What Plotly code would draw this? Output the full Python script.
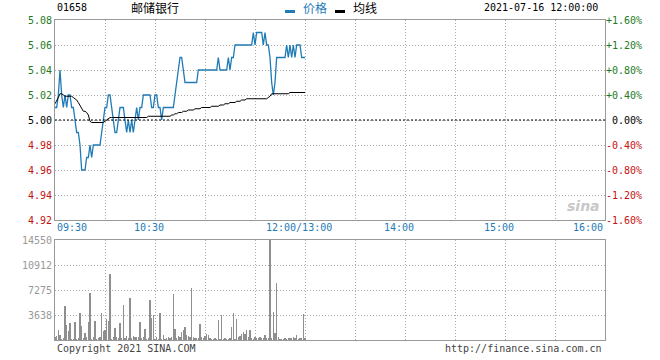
import plotly.graph_objects as go

# ---------------- data ----------------
PRICE = [
    5.01, 5.01, 5.02, 5.04, 5.02, 5.01, 5.02, 5.01, 5.02, 5.02,
    5.01, 5.01, 5.00, 4.99, 4.99, 4.98, 4.96, 4.96, 4.96, 4.97,
    4.97, 4.98, 4.97, 4.98, 4.98, 4.98, 4.98, 4.98, 4.99, 5.00,
    5.01, 5.01, 5.02, 5.02, 5.01, 5.00, 4.99, 4.99, 5.00, 5.01,
    5.01, 5.01, 5.00, 4.99, 5.00, 4.99, 5.00, 4.99, 5.00, 5.01,
    5.00, 5.01, 5.01, 5.02, 5.02, 5.02, 5.02, 5.02, 5.01, 5.01,
    5.02, 5.02, 5.01, 5.01, 5.00, 5.01, 5.01, 5.01, 5.01, 5.01,
    5.01, 5.01, 5.02, 5.03, 5.04, 5.05, 5.05, 5.04, 5.03, 5.03,
    5.03, 5.03, 5.03, 5.03, 5.03, 5.03, 5.04, 5.04, 5.04, 5.04,
    5.04, 5.04, 5.04, 5.04, 5.04, 5.04, 5.04, 5.04, 5.05, 5.04,
    5.04, 5.04, 5.04, 5.04, 5.05, 5.04, 5.05, 5.05, 5.06, 5.06,
    5.06, 5.06, 5.06, 5.06, 5.06, 5.06, 5.06, 5.06, 5.06, 5.07,
    5.06, 5.07, 5.07, 5.07, 5.07, 5.06, 5.07, 5.06, 5.06, 5.05,
    5.03, 5.02, 5.03, 5.05, 5.05, 5.05, 5.05, 5.05, 5.05, 5.06,
    5.05, 5.06, 5.05, 5.06, 5.05, 5.06, 5.06, 5.06, 5.05, 5.05,
    5.05,
]

AVG = [
    5.013, 5.015, 5.018, 5.021, 5.021, 5.020, 5.019, 5.019, 5.019, 5.019,
    5.019, 5.018, 5.017, 5.016, 5.014, 5.012, 5.009, 5.007, 5.007, 5.006,
    5.004, 4.999, 4.998, 4.998, 4.998, 4.998, 4.998, 4.998, 4.998, 4.998,
    4.999, 5.000, 5.001, 5.002, 5.002, 5.002, 5.002, 5.002, 5.002, 5.002,
    5.002, 5.002, 5.002, 5.002, 5.002, 5.002, 5.002, 5.002, 5.002, 5.002,
    5.002, 5.002, 5.002, 5.002, 5.002, 5.002, 5.003, 5.003, 5.003, 5.003,
    5.003, 5.003, 5.003, 5.003, 5.003, 5.003, 5.003, 5.003, 5.003, 5.003,
    5.004, 5.004, 5.005, 5.005, 5.006, 5.006, 5.006, 5.007, 5.007, 5.007,
    5.008, 5.008, 5.008, 5.008, 5.009, 5.009, 5.009, 5.009, 5.010, 5.010,
    5.010, 5.010, 5.010, 5.010, 5.011, 5.011, 5.011, 5.011, 5.011, 5.012,
    5.012, 5.012, 5.013, 5.013, 5.013, 5.014, 5.014, 5.014, 5.014, 5.015,
    5.015, 5.015, 5.016, 5.016, 5.016, 5.017, 5.017, 5.017, 5.017, 5.017,
    5.017, 5.017, 5.017, 5.017, 5.017, 5.017, 5.017, 5.017, 5.018, 5.019,
    5.021, 5.021, 5.021, 5.021, 5.021, 5.021, 5.021, 5.021, 5.021, 5.021,
    5.021, 5.022, 5.022, 5.022, 5.022, 5.022, 5.022, 5.022, 5.022, 5.022,
    5.022,
]

VOLUME = [
    388, 582, 1455, 727, 194, 340, 4947, 2182, 1310, 2522,
    97, 194, 2619, 100, 243, 3928, 2037, 340, 970, 485,
    2619, 6838, 194, 485, 2765, 194, 340, 388, 3880, 1358,
    1455, 3007, 2813, 9603, 194, 388, 1698, 485, 243, 2425,
    300, 5093, 243, 582, 243, 6063, 243, 582, 485, 388,
    485, 2619, 243, 388, 1600, 194, 340, 5820, 3250, 3638,
    145, 485, 145, 3977, 194, 727, 194, 243, 388, 243,
    388, 6693, 1649, 243, 582, 388, 1115, 1455, 1843, 727,
    582, 485, 7518, 485, 340, 243, 243, 2328, 485, 340,
    631, 825, 727, 243, 194, 145, 243, 145, 2910, 145,
    3638, 145, 243, 145, 194, 243, 1940, 3880, 194, 3007,
    485, 582, 825, 1164, 825, 1407, 485, 1455, 243, 145,
    388, 243, 340, 388, 291, 340, 679, 291, 243, 14550,
    243, 4123, 1067, 8342, 388, 194, 97, 145, 243, 194,
    243, 340, 243, 388, 243, 727, 194, 291, 291, 3783,
    291,
]

MINUTES = list(range(len(PRICE)))          # trading minutes from 09:30
TIME_LABELS = ["09:30", "10:30", "12:00/13:00", "14:00", "15:00", "16:00"]
TIME_POS = [0, 60, 150, 210, 270, 330]
PRICE_TICKS = [4.92, 4.94, 4.96, 4.98, 5.00, 5.02, 5.04, 5.06, 5.08]
PCT_TICKS = [-1.6, -1.2, -0.8, -0.4, 0.0, 0.4, 0.8, 1.2, 1.6]
VOL_TICKS = [3638, 7275, 10912, 14550]
PREV_CLOSE = 5.00

GREEN = "#1f7a1f"
RED = "#c41212"
BLUE = "#1f7bb6"
GRID = "#aaaaaa"
MONO = "DejaVu Sans Mono"


def col_for(v, ref):
    if v > ref + 1e-9:
        return GREEN
    if v < ref - 1e-9:
        return RED
    return "#000000"


price_ticktext = [f'<span style="color:{col_for(v, PREV_CLOSE)}">{v:.2f}</span>' for v in PRICE_TICKS]
pct_ticktext = []
for v in PCT_TICKS:
    if v > 0:
        s = f"+{v:.2f}%"
    elif v < 0:
        s = f"{v:.2f}%"
    else:
        s = f"\u00a0{v:.2f}%"
    pct_ticktext.append(f'<span style="color:{col_for(v, 0)}">{s}</span>')

# percent change relative to previous close (for the right-hand axis)
PCT_CHANGE = [(p / PREV_CLOSE - 1) * 100 for p in PRICE]

fig = go.Figure()
fig.add_trace(go.Scatter(x=MINUTES, y=PRICE, mode="lines", name="价格",
                         line=dict(color=BLUE, width=1.3), xaxis="x", yaxis="y"))
fig.add_trace(go.Scatter(x=MINUTES, y=AVG, mode="lines", name="均线",
                         line=dict(color="#000000", width=1), xaxis="x", yaxis="y"))
fig.add_trace(go.Scatter(x=MINUTES, y=PCT_CHANGE, mode="lines", name="涨跌幅",
                         line=dict(color="rgba(0,0,0,0)", width=0), hoverinfo="skip",
                         xaxis="x", yaxis="y3"))
fig.add_trace(go.Bar(x=MINUTES, y=VOLUME, width=0.7, marker=dict(color="#8f8f8f", line=dict(width=0)),
                     xaxis="x2", yaxis="y2", name="成交量"))

grid_x = list(range(30, 330, 30))
axis_common = dict(showline=True, mirror=True, linecolor="#999999", linewidth=1,
                   zeroline=False, ticks="", fixedrange=True)

fig.update_layout(
    width=660, height=360, autosize=False,
    margin=dict(l=55, r=55, t=20, b=20),
    paper_bgcolor="white", plot_bgcolor="white",
    showlegend=False,
    bargap=0,
    xaxis=dict(domain=[0, 1], anchor="y", range=[0, 330], tickvals=grid_x,
               showticklabels=False, showgrid=True, gridcolor=GRID, griddash="1px,2px",
               gridwidth=1, **axis_common),
    yaxis=dict(domain=[0.375, 1], anchor="x", range=[4.92, 5.08], tickvals=PRICE_TICKS,
               ticktext=price_ticktext, showgrid=True, gridcolor=GRID, griddash="1px,2px",
               tickfont=dict(family=MONO, size=10), **axis_common),
    yaxis3=dict(overlaying="y", side="right", anchor="x", range=[-1.6, 1.6],
                tickvals=PCT_TICKS, ticktext=pct_ticktext, showgrid=False,
                tickfont=dict(family=MONO, size=10), zeroline=False, ticks="",
                showline=False, fixedrange=True),
    xaxis2=dict(domain=[0, 1], anchor="y2", range=[0, 330], tickvals=grid_x,
                showticklabels=False, showgrid=True, gridcolor=GRID, griddash="1px,2px",
                **axis_common),
    yaxis2=dict(domain=[0, 0.3125], anchor="x2", range=[0, 14550], tickvals=VOL_TICKS,
                ticktext=[str(v) for v in VOL_TICKS], showgrid=True, gridcolor=GRID,
                griddash="1px,2px", tickfont=dict(family=MONO, size=10, color="#999999"),
                **axis_common),
)

# previous-close reference line
fig.add_shape(type="line", xref="x", yref="y", x0=0, x1=330, y0=PREV_CLOSE, y1=PREV_CLOSE,
              line=dict(color="#000000", width=1, dash="2px,2px"))

# time labels under the price panel
for lab, pos in zip(TIME_LABELS, TIME_POS):
    if pos == TIME_POS[0]:
        anchor, shift = "left", 0
    elif pos == TIME_POS[-1]:
        anchor, shift = "right", 0
    else:
        anchor, shift = "center", -6
    fig.add_annotation(x=pos, xref="x", y=0.353, yref="paper", text=lab, showarrow=False,
                       xanchor=anchor, yanchor="middle", xshift=shift,
                       font=dict(family=MONO, size=10, color=BLUE))

# header
fig.add_annotation(x=0, xref="paper", y=1.0375, yref="paper", text="01658", showarrow=False,
                   xanchor="left", yanchor="middle", font=dict(family=MONO, size=10, color="#000"))
fig.add_annotation(x=0.1345, xref="paper", y=1.0375, yref="paper", text="邮储银行", showarrow=False,
                   xanchor="left", yanchor="middle",
                   font=dict(family="Noto Sans CJK SC", size=12, color="#000"))
fig.add_annotation(x=0.447, xref="paper", y=1.0375, yref="paper", text="价格", showarrow=False,
                   xanchor="left", yanchor="middle",
                   font=dict(family="Noto Sans CJK SC", size=12, color=BLUE))
fig.add_annotation(x=0.538, xref="paper", y=1.0375, yref="paper", text="均线", showarrow=False,
                   xanchor="left", yanchor="middle",
                   font=dict(family="Noto Sans CJK SC", size=12, color="#000"))
fig.add_shape(type="rect", xref="paper", yref="paper", x0=(285 - 55) / 550, x1=(295 - 55) / 550,
              y0=(340 - 13) / 320, y1=(340 - 10) / 320, fillcolor=BLUE, line=dict(width=0))
fig.add_shape(type="rect", xref="paper", yref="paper", x0=(335 - 55) / 550, x1=(345 - 55) / 550,
              y0=(340 - 13) / 320, y1=(340 - 10) / 320, fillcolor="#000", line=dict(width=0))
fig.add_annotation(x=0.991, xref="paper", y=1.0375, yref="paper", text="2021-07-16 12:00:00",
                   showarrow=False, xanchor="right", yanchor="middle",
                   font=dict(family=MONO, size=10, color="#000"))

# footer
fig.add_annotation(x=0, xref="paper", y=-0.028, yref="paper", text="Copyright 2021 SINA.COM",
                   showarrow=False, xanchor="left", yanchor="middle",
                   font=dict(family=MONO, size=10, color="#444"))
fig.add_annotation(x=0.998, xref="paper", y=-0.028, yref="paper", text="http://finance.sina.com.cn",
                   showarrow=False, xanchor="right", yanchor="middle",
                   font=dict(family=MONO, size=10, color="#444"))

# watermark
fig.add_annotation(x=0.96, xref="paper", y=(340 - 206) / 320, yref="paper", text="<i><b>sina</b></i>",
                   showarrow=False, xanchor="center", yanchor="middle",
                   font=dict(family="DejaVu Sans", size=14, color="#c8c8c8"))

fig.write_html("out.html", config={"displayModeBar": False, "staticPlot": True},
               post_script="document.body.style.margin='0px';document.body.style.overflow='hidden';")
